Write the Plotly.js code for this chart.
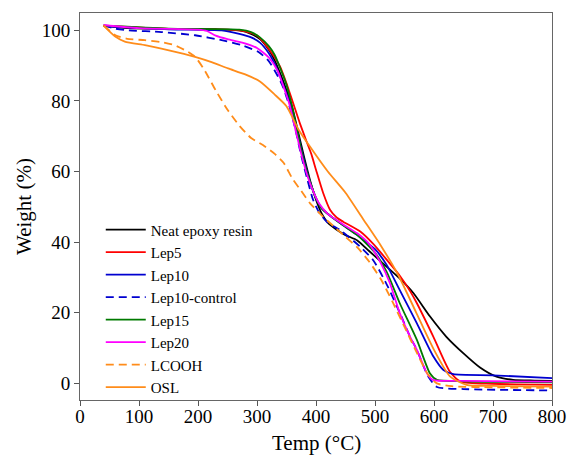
<!DOCTYPE html>
<html>
<head>
<meta charset="utf-8">
<script src="https://cdn.plot.ly/plotly-3.0.1.min.js"></script>
<style>html,body{margin:0;padding:0;background:#fff;}#chart{width:570px;height:457px;}</style>
</head>
<body>
<div id="chart"></div>
<script>
// Series names
const seriesNames = ["Neat epoxy resin", "Lep5", "Lep10", "Lep10-control", "Lep15", "Lep20", "LCOOH", "OSL"];

// Neat epoxy resin
const neatT = [40, 80, 150, 230, 270, 290, 305, 320, 330, 340, 350, 360, 370, 380, 390, 400, 410, 420, 435, 450, 470, 490, 510, 540, 565, 593, 621, 650, 678, 706, 734, 770, 800];
const neatW = [101.3, 100.6, 100.4, 100.3, 100, 99, 97.5, 94.5, 91.5, 87.5, 83, 78, 71, 64, 57.5, 52, 48, 45.5, 43.5, 42, 40.5, 37.5, 34.5, 30, 25.6, 19, 13.2, 8.5, 4.5, 1.9, 1, 0.8, 0.7];

// Lep5
const lep5T = [40, 150, 250, 280, 300, 322, 339, 350, 356, 365, 373, 384, 392, 400, 412, 424, 435, 446, 475, 497, 525, 542, 560, 571, 599, 627, 645, 700, 800];
const lep5W = [101.3, 100.4, 100.2, 99.7, 98.5, 94.3, 89.8, 85, 82, 77.5, 73.5, 68.5, 65, 60.5, 54, 49.1, 47, 45.8, 43, 39.5, 34, 30.5, 26, 22.7, 13.2, 3.3, 0.5, -0.1, -0.4];

// Lep10
const lep10T = [40, 150, 240, 270, 290, 305, 320, 330, 340, 350, 360, 370, 380, 390, 400, 410, 424, 446, 470, 500, 520, 542, 571, 599, 616, 633, 700, 800];
const lep10W = [101.2, 100.3, 100, 99, 98, 96.5, 93.5, 90.5, 86.5, 82, 77, 70, 63, 57, 52.5, 49.5, 47.5, 44.8, 42, 38, 33.5, 26.4, 17, 7.6, 3.8, 2.6, 2.3, 1.5];

// Lep10-control
const lep10cT = [40, 59, 82, 138, 195, 240, 274, 302, 319, 333, 344, 355, 365, 375, 385, 395, 405, 420, 441, 475, 497, 520, 542, 560, 571, 590, 605, 650, 800];
const lep10cW = [101.4, 100.5, 100, 99.5, 98.6, 97.2, 95.8, 93.9, 91.5, 87.7, 84, 78.5, 72, 64.5, 58, 52, 48.5, 45.5, 43.4, 38.7, 34.9, 28, 20, 13, 9.5, 2, -1, -1.6, -2];

// Lep15
const lep15T = [40, 150, 270, 290, 305, 320, 330, 340, 350, 360, 370, 380, 390, 400, 410, 424, 446, 470, 500, 520, 542, 571, 593, 605, 650, 800];
const lep15W = [101.3, 100.5, 100.2, 99.5, 98, 95.5, 93, 89, 84.5, 78, 70, 62.5, 57, 52.5, 49.5, 47.5, 44.8, 42, 37, 31.5, 22.7, 12.3, 2.9, 1, 0.6, 0.3];

// Lep20
const lep20T = [40, 100, 200, 215, 230, 250, 275, 300, 320, 335, 345, 355, 365, 375, 385, 395, 405, 420, 446, 470, 490, 510, 525, 542, 560, 571, 588, 598, 650, 800];
const lep20W = [101.5, 100.6, 100.2, 99.8, 98.5, 97.5, 96.5, 95, 92.3, 88.5, 84, 79, 72, 65, 59, 54.5, 51, 48, 45, 42.5, 39.5, 34, 28.5, 19.9, 13, 9.5, 2.9, 1, 0.7, 0.5];

// LCOOH
const lcoohT = [40, 60, 80, 110, 140, 160, 180, 195, 210, 230, 250, 270, 290, 310, 330, 345, 360, 375, 390, 410, 430, 450, 470, 490, 510, 530, 550, 570, 590, 605, 630, 700, 800];
const lcoohW = [101.4, 98.6, 97.6, 97.2, 96.6, 95.8, 94.2, 92.5, 89, 83, 77.5, 73, 69.5, 67.5, 65, 62.5, 58, 54.5, 51, 47.5, 44.5, 41.5, 38.5, 34.5, 29.5, 23, 16, 9, 2.5, 0, -0.8, -1.1, -1.3];

// OSL
const oslT = [40, 59, 76, 110, 138, 167, 195, 223, 251, 280, 305, 330, 350, 370, 390, 420, 450, 480, 510, 540, 570, 600, 627, 655, 700, 800];
const oslW = [101.3, 98.3, 96.8, 95.8, 94.8, 93.7, 92.5, 91, 89.2, 87.5, 85.5, 81.8, 78.5, 72, 67, 60, 54, 46.5, 39, 30.5, 20, 9.5, 2, -0.4, -0.7, -0.9];

// Axis ticks and titles
const xTicks = [0, 100, 200, 300, 400, 500, 600, 700, 800];
const yTicks = [0, 20, 40, 60, 80, 100];
const xTitle = "Temp (°C)";
const yTitle = "Weight (%)";

const xs = [neatT, lep5T, lep10T, lep10cT, lep15T, lep20T, lcoohT, oslT];
const ys = [neatW, lep5W, lep10W, lep10cW, lep15W, lep20W, lcoohW, oslW];
const colors = ["#000000", "#ff0000", "#0000d0", "#0000d0", "#007a00", "#ff00ff", "#ff8c1a", "#ff8c1a"];
const dashes = ["solid", "solid", "solid", "8px,5px", "solid", "solid", "8px,5px", "solid"];

const traces = seriesNames.map((n, i) => ({
  x: xs[i], y: ys[i], name: n, type: "scatter", mode: "lines",
  line: {color: colors[i], width: 1.8, dash: dashes[i], shape: "spline", smoothing: 0.6}
}));

const font = "Liberation Serif";
const layout = {
  width: 570, height: 457,
  margin: {l: 80, r: 18, t: 13, b: 57},
  paper_bgcolor: "#fff", plot_bgcolor: "#fff",
  font: {family: font, color: "#000"},
  showlegend: true,
  legend: {x: 0.044, y: 0.482, xanchor: "left", yanchor: "top", bgcolor: "rgba(0,0,0,0)",
           itemwidth: 40, font: {family: font, size: 15, color: "#000"}, tracegroupgap: 0},
  xaxis: {range: [0, 800], tickvals: xTicks, ticktext: xTicks.map(String), ticks: "outside", ticklen: 5,
          ticklabelstandoff: -6,
          tickcolor: "#555", showline: true, linecolor: "#666", linewidth: 1, mirror: true,
          showgrid: false, zeroline: false, tickfont: {family: font, size: 19, color: "#000"}},
  yaxis: {range: [-4.7, 104.9], tickvals: yTicks, ticktext: yTicks.map(String), ticks: "outside", ticklen: 5,
          tickcolor: "#555", showline: true, linecolor: "#666", linewidth: 1, mirror: true,
          showgrid: false, zeroline: false, tickfont: {family: font, size: 19, color: "#000"},
          title: {text: yTitle, font: {family: font, size: 21, color: "#000"}, standoff: 4}},
  annotations: [{text: xTitle, xref: "paper", yref: "paper", x: 0.5, y: -0.112, xanchor: "center", yanchor: "middle",
                 showarrow: false, font: {family: font, size: 21, color: "#000"}}]
};

Plotly.newPlot("chart", traces, layout, {displayModeBar: false, staticPlot: true});
</script>
</body>
</html>
